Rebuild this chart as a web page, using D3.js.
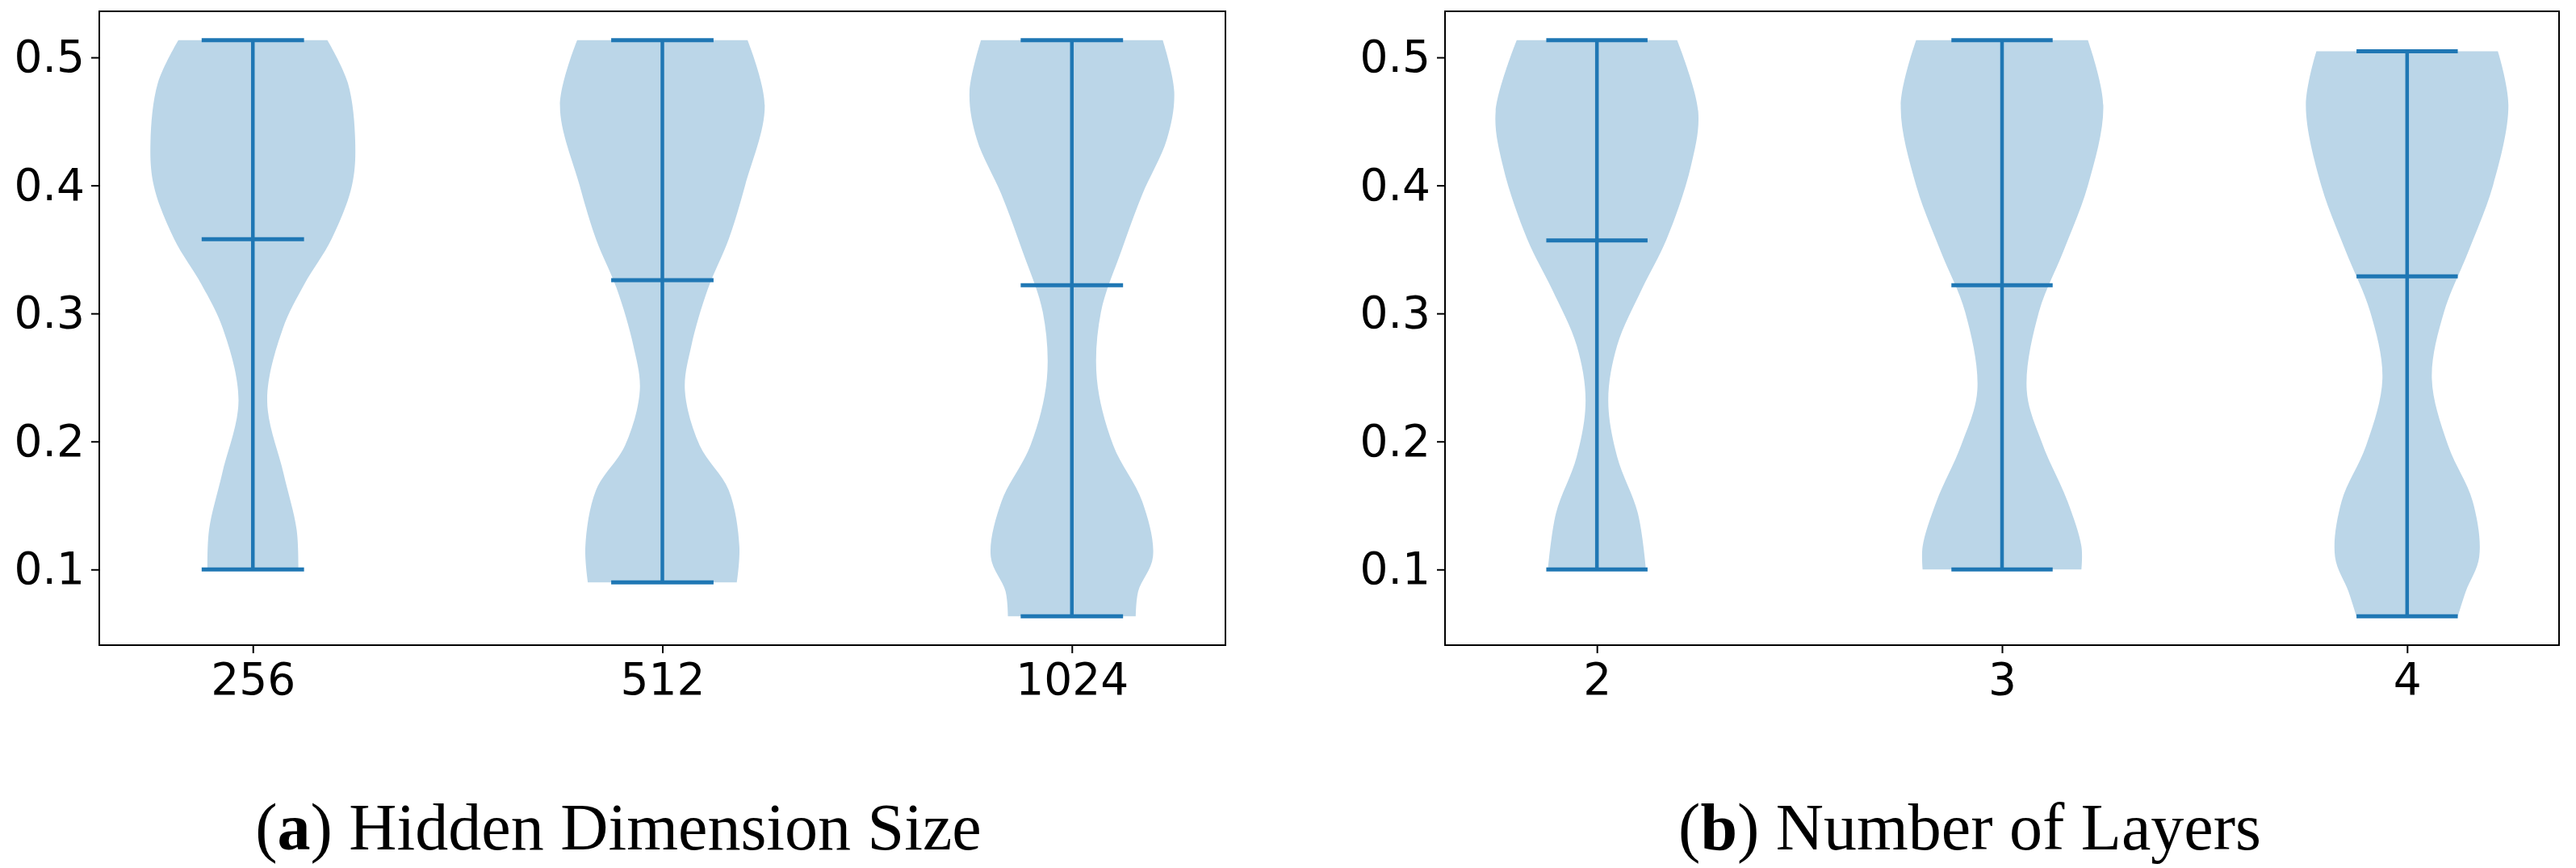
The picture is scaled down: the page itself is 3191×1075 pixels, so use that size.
<!DOCTYPE html>
<html><head><meta charset="utf-8">
<script src="https://cdn.jsdelivr.net/npm/d3@7"></script>
<style>body{margin:0;background:#fff}</style></head>
<body><svg id="c" width="3191" height="1075"></svg>
<script>
// Panel (a): Hidden Dimension Size
const catsA = ["256","512","1024"];
const statsA = [ // [min, median, max]
  [0.1, 0.358, 0.5135],
  [0.09, 0.326, 0.5135],
  [0.0634, 0.322, 0.5135]
];
// violin profiles: [value, half-width in category units]
const profA = [
  [[0.5135,0.182],[0.48,0.232],[0.434,0.25],[0.40,0.242],[0.358,0.192],[0.323,0.126],[0.288,0.073],[0.232,0.035],[0.175,0.075],[0.131,0.107],[0.1,0.111]],
  [[0.5135,0.208],[0.4625,0.25],[0.40,0.202],[0.358,0.162],[0.319,0.111],[0.275,0.071],[0.24,0.055],[0.197,0.091],[0.162,0.162],[0.118,0.188],[0.09,0.182]],
  [[0.5135,0.222],[0.473,0.25],[0.436,0.232],[0.393,0.172],[0.349,0.121],[0.301,0.071],[0.249,0.061],[0.197,0.101],[0.153,0.172],[0.11,0.198],[0.083,0.162],[0.0634,0.156]]
];
// Panel (b): Number of Layers
const catsB = ["2","3","4"];
const statsB = [
  [0.1, 0.357, 0.5135],
  [0.1, 0.322, 0.5135],
  [0.0634, 0.329, 0.5048]
];
const profB = [
  [[0.5135,0.198],[0.458,0.25],[0.415,0.232],[0.358,0.172],[0.319,0.111],[0.275,0.05],[0.232,0.028],[0.188,0.05],[0.144,0.101],[0.1,0.121]],
  [[0.5135,0.212],[0.4625,0.25],[0.40,0.212],[0.349,0.152],[0.301,0.091],[0.24,0.061],[0.197,0.101],[0.153,0.162],[0.118,0.196],[0.1,0.196]],
  [[0.5048,0.224],[0.4625,0.25],[0.40,0.212],[0.349,0.152],[0.301,0.091],[0.249,0.061],[0.197,0.101],[0.153,0.162],[0.11,0.178],[0.083,0.145],[0.0634,0.125]]
];
const yTicks = [0.1,0.2,0.3,0.4,0.5];

const svg = d3.select("#c");
const blue = "#1f77b4", fill = "#bbd6e8";
function panel(x0, x1, cats, stats, prof, label, title, tx) {
  const y = d3.scaleLinear().domain([0.0409, 0.536]).range([799, 14]);
  const x = d3.scaleLinear().domain([0.625, 3.375]).range([x0, x1]);
  const g = svg.append("g");
  prof.forEach((p, i) => {
    const c = i + 1;
    const area = d3.area().curve(d3.curveCatmullRom.alpha(0.5))
      .y(d => y(d[0])).x0(d => x(c - d[1])).x1(d => x(c + d[1]));
    g.append("path").datum(p).attr("d", area).attr("fill", fill);
    const s = stats[i];
    g.append("line").attr("x1", x(c)).attr("x2", x(c)).attr("y1", y(s[0])).attr("y2", y(s[2]))
      .attr("stroke", blue).attr("stroke-width", 4.5);
    s.forEach(v => g.append("line").attr("x1", x(c - 0.125)).attr("x2", x(c + 0.125))
      .attr("y1", y(v)).attr("y2", y(v)).attr("stroke", blue).attr("stroke-width", 5));
  });
  g.append("rect").attr("x", x0).attr("y", 14).attr("width", x1 - x0).attr("height", 785)
    .attr("fill", "none").attr("stroke", "#000").attr("stroke-width", 2);
  const ya = g.append("g").attr("transform", `translate(${x0},0)`)
    .call(d3.axisLeft(y).tickValues(yTicks).tickFormat(d3.format(".1f")).tickSize(10).tickPadding(8));
  const xa = g.append("g").attr("transform", `translate(0,799)`)
    .call(d3.axisBottom(x).tickValues([1,2,3]).tickFormat((d,i) => cats[i]).tickSize(10).tickPadding(12));
  [ya, xa].forEach(a => {
    a.select(".domain").remove();
    a.selectAll("line").attr("stroke-width", 2);
    a.selectAll("text").attr("font-family", "DejaVu Sans").attr("font-size", 55).attr("fill", "#000");
  });
  const t = svg.append("text").attr("x", tx).attr("y", 1052).attr("text-anchor", "middle")
    .attr("font-family", "Liberation Serif").attr("font-size", 82).attr("fill", "#000");
  t.append("tspan").text("(");
  t.append("tspan").attr("font-weight", "bold").text(label);
  t.append("tspan").text(") " + title);
}
panel(123, 1518, catsA, statsA, profA, "a", "Hidden Dimension Size", 766);
panel(1790, 3170, catsB, statsB, profB, "b", "Number of Layers", 2440);
</script></body></html>
